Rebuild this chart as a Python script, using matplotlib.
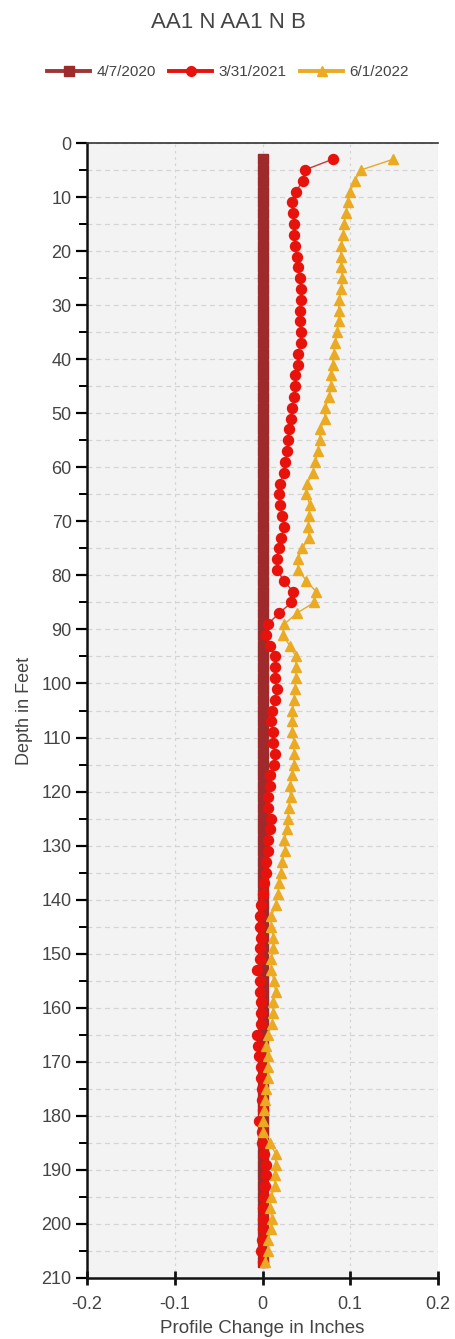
import matplotlib
matplotlib.use("Agg")
import matplotlib.pyplot as plt
from matplotlib.ticker import MultipleLocator
from matplotlib.lines import Line2D

plt.rcParams['font.family'] = ['Liberation Sans', 'DejaVu Sans']

depths = list(range(3, 208, 2))

series_labels = ["4/7/2020", "3/31/2021", "6/1/2022"]

base_2020 = [0.0] * len(depths)

change_2021 = [
    0.080, 0.048, 0.046, 0.038, 0.034, 0.035, 0.036, 0.036, 0.037, 0.039,
    0.040, 0.043, 0.044, 0.044, 0.043, 0.043, 0.044, 0.044, 0.040, 0.040,
    0.037, 0.037, 0.036, 0.034, 0.033, 0.030, 0.029, 0.028, 0.026, 0.024,
    0.020, 0.019, 0.020, 0.022, 0.025, 0.021, 0.019, 0.016, 0.017, 0.024,
    0.035, 0.033, 0.019, 0.006, 0.0045, 0.009, 0.014, 0.014, 0.014, 0.016,
    0.014, 0.011, 0.010, 0.012, 0.012, 0.014, 0.013, 0.008, 0.008, 0.006,
    0.006, 0.010, 0.009, 0.006, 0.006, 0.004, 0.004, 0.002, 0.001, -0.002,
    -0.003, -0.003, -0.002, -0.003, -0.003, -0.006, -0.003, -0.003, -0.002, -0.002,
    -0.002, -0.006, -0.005, -0.004, -0.002, -0.002, -0.001, -0.001, 0.000, -0.004,
    -0.001, -0.001, 0.002, 0.004, 0.004, 0.003, 0.002, 0.001, 0.000, 0.000,
    -0.001, -0.002, 0.000,
]

change_2022 = [
    0.149, 0.112, 0.105, 0.100, 0.097, 0.095, 0.093, 0.092, 0.090, 0.089,
    0.090, 0.091, 0.090, 0.087, 0.087, 0.087, 0.085, 0.083, 0.081, 0.080,
    0.078, 0.078, 0.076, 0.071, 0.071, 0.066, 0.065, 0.063, 0.060, 0.057,
    0.051, 0.050, 0.054, 0.053, 0.052, 0.053, 0.045, 0.040, 0.041, 0.050,
    0.061, 0.059, 0.039, 0.025, 0.023, 0.031, 0.038, 0.038, 0.038, 0.037,
    0.036, 0.034, 0.034, 0.034, 0.036, 0.036, 0.036, 0.034, 0.031, 0.032,
    0.030, 0.029, 0.028, 0.025, 0.026, 0.022, 0.021, 0.019, 0.0175, 0.015,
    0.010, 0.010, 0.012, 0.012, 0.010, 0.010, 0.013, 0.015, 0.012, 0.012,
    0.011, 0.006, 0.004, 0.006, 0.006, 0.006, 0.004, 0.003, 0.002, 0.000,
    0.001, 0.008, 0.015, 0.015, 0.014, 0.014, 0.010, 0.008, 0.011, 0.010,
    0.006, 0.006, 0.003,
]

x_ticks = [-0.2, -0.1, 0, 0.1, 0.2]
x_tick_labels = ["-0.2", "-0.1", "0", "0.1", "0.2"]
y_ticks = list(range(0, 211, 10))

colors = ["#9e2a2b", "#e8120c", "#eaaa22"]
line_colors = ["#9e2a2b", "#c8383a", "#e9a825"]
markers = ["s", "o", "^"]

fig = plt.figure(figsize=(4.56, 13.39), dpi=100)
ax = fig.add_axes([87/456, 1 - 1278/1339, (438 - 87)/456, (1278 - 143)/1339])
ax.set_facecolor("#f3f3f3")

ax.plot(base_2020, depths, color=line_colors[0], marker=markers[0], markersize=7, lw=1.2,
        markerfacecolor=colors[0], markeredgecolor=colors[0], zorder=3)
ax.plot(change_2021, depths, color=line_colors[1], marker=markers[1], markersize=7.2, lw=1.0,
        markerfacecolor=colors[1], markeredgecolor=colors[1], zorder=4)
ax.plot(change_2022, depths, color=line_colors[2], marker=markers[2], markersize=6.8, lw=1.0,
        markerfacecolor=colors[2], markeredgecolor=colors[2], zorder=5)

ax.set_xlim(-0.2, 0.2)
ax.set_ylim(210, 0)
ax.set_xticks(x_ticks)
ax.set_xticklabels(x_tick_labels)
ax.set_yticks(y_ticks)
ax.yaxis.set_minor_locator(MultipleLocator(5))

ax.grid(True, which="both", axis="y", color="#d4d4d4", linestyle=(0, (4, 3)), lw=0.9)
ax.grid(True, which="major", axis="x", color="#d4d4d4", linestyle=(0, (2, 3)), lw=0.9)
ax.set_axisbelow(True)

for s in ["left", "bottom"]:
    ax.spines[s].set_linewidth(1.8)
    ax.spines[s].set_color("#111111")
ax.spines["top"].set_linewidth(1.2)
ax.spines["top"].set_color("#333333")
ax.spines["right"].set_visible(False)

ax.tick_params(axis="x", which="major", direction="inout", length=10, width=2,
               labelsize=13, colors="#111111", labelcolor="#444444", pad=8)
ax.tick_params(axis="y", which="major", direction="out", length=8, width=1.6,
               labelsize=13, labelcolor="#444444", pad=3)
ax.tick_params(axis="y", which="minor", direction="out", length=6, width=1.4)

ax.set_xlabel("Profile Change in Inches", fontsize=13.5, color="#444444", labelpad=5)
ax.set_ylabel("Depth in Feet", fontsize=13, color="#444444", labelpad=6)

fig.text(0.5, 1 - 22/1339, "AA1 N AA1 N B", ha="center", va="center",
         fontsize=16, color="#444444")

handles = [Line2D([0], [0], color=line_colors[i], lw=2.8, marker=markers[i],
                  markersize=7, markerfacecolor=colors[i], markeredgecolor=colors[i])
           for i in range(3)]
handles[0].set_color("#a03536")
handles[1].set_color("#e8120c")
handles[2].set_color("#eaaa22")
fig.legend(handles, series_labels, loc="center", bbox_to_anchor=(0.5, 1 - 72/1339),
           ncol=3, frameon=False, fontsize=11, handlelength=2.8, columnspacing=0.9,
           handletextpad=0.4, labelcolor="#444444")

fig.savefig("out.png", dpi=100)
